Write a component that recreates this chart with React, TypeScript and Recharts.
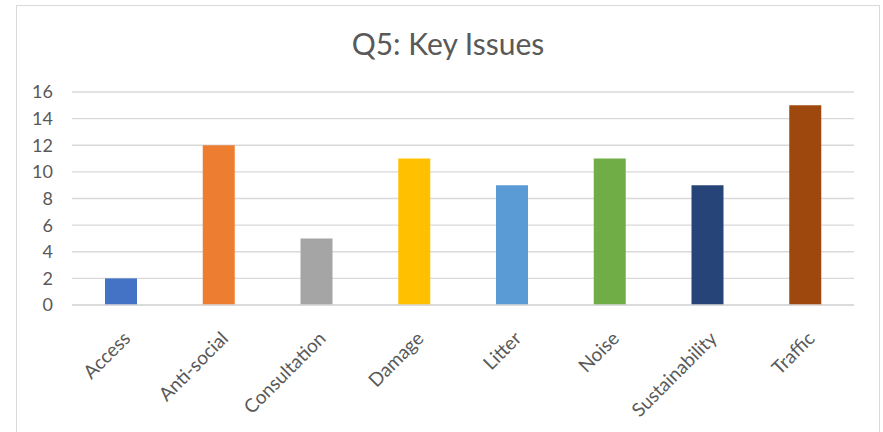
import React from 'react';
import { BarChart, Bar, XAxis, YAxis, CartesianGrid, Cell } from 'recharts';

const categories = ['Access', 'Anti-social', 'Consultation', 'Damage', 'Litter', 'Noise', 'Sustainability', 'Traffic'];
const counts = [2, 12, 5, 11, 9, 11, 9, 15];
const colors = ['#4472C4', '#ED7D31', '#A5A5A5', '#FFC000', '#5B9BD5', '#70AD47', '#264478', '#9E480E'];
const yTicks = [0, 2, 4, 6, 8, 10, 12, 14, 16];

const data = categories.map((name, i) => ({ name, value: counts[i] }));

const FONT = 'Lato, Carlito, Calibri, sans-serif';

const XTick = (props: any) => {
  const { x, y, payload } = props;
  return (
    <g transform={`translate(${x + 6},${y + 22})`}>
      <text transform="rotate(-45)" textAnchor="end" fill="#595959" fontSize={19} fontFamily={FONT} dy="0.35em">
        {payload.value}
      </text>
    </g>
  );
};

export default function App() {
  return (
    <div style={{ position: 'absolute', left: 0, top: 0, width: 883, height: 432, overflow: 'hidden', background: '#fff' }}>
      <div style={{ position: 'absolute', left: 16, top: 5, width: 862, height: 460, border: '1px solid #d9d9d9' }} />
      <div style={{ position: 'absolute', left: 16, top: 25, width: 864, textAlign: 'center', fontFamily: FONT, fontSize: 30, color: '#595959' }}>
        Q5: Key Issues
      </div>
      <div style={{ position: 'absolute', left: 0, top: 0 }}>
        <BarChart width={883} height={432} data={data} margin={{ top: 92, right: 29, bottom: 0, left: 32 }}>
          <CartesianGrid vertical={false} stroke="#d9d9d9" strokeWidth={1.3} />
          <XAxis dataKey="name" axisLine={{ stroke: '#d9d9d9', strokeWidth: 1.3 }} tickLine={false} interval={0} tick={<XTick />} height={127} />
          <YAxis
            domain={[0, 16]}
            ticks={yTicks}
            interval={0}
            width={40}
            axisLine={false}
            tickLine={false}
            tickSize={0}
            tickMargin={19}
            tick={{ fill: '#595959', fontSize: 18, fontFamily: FONT }}
          />
          <Bar dataKey="value" barSize={32} isAnimationActive={false}>
            {data.map((d, i) => (
              <Cell key={d.name} fill={colors[i]} />
            ))}
          </Bar>
        </BarChart>
      </div>
    </div>
  );
}
